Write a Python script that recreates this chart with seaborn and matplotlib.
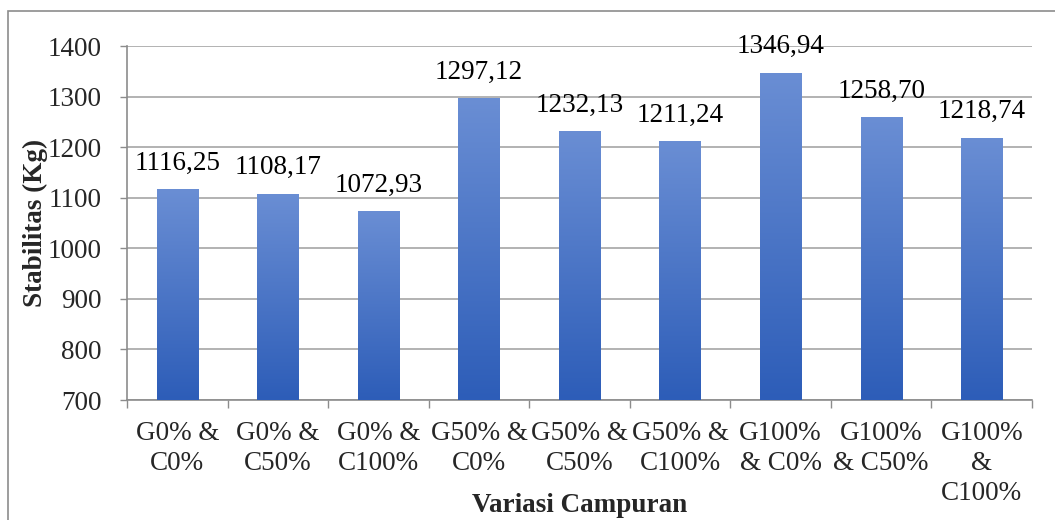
import numpy as np
import pandas as pd
import matplotlib
matplotlib.use("Agg")
import matplotlib.pyplot as plt
import seaborn as sns
from matplotlib.colors import LinearSegmentedColormap
from matplotlib.patches import Rectangle

# data
categories = ["G0% &\nC0%", "G0% &\nC50%", "G0% &\nC100%",
              "G50% &\nC0%", "G50% &\nC50%", "G50% &\nC100%",
              "G100%\n& C0%", "G100%\n& C50%", "G100%\n&\nC100%"]
stabilitas = [1116.25, 1108.17, 1072.93, 1297.12, 1232.13,
              1211.24, 1346.94, 1258.70, 1218.74]
value_labels = ["1116,25", "1108,17", "1072,93", "1297,12", "1232,13",
                "1211,24", "1346,94", "1258,70", "1218,74"]
y_ticks = [700, 800, 900, 1000, 1100, 1200, 1300, 1400]

df = pd.DataFrame({"kategori": categories, "stabilitas": stabilitas})

sns.set_style("white")
plt.rcParams["font.family"] = ["Liberation Serif", "DejaVu Serif"]
FS = 19.5

W, H = 1055, 520
fig = plt.figure(figsize=(W / 100, H / 100), dpi=100)
ax = fig.add_axes([127 / W, 1 - 400 / H, (1032 - 127) / W, (400 - 46) / H])

sns.barplot(data=df, x="kategori", y="stabilitas", color="#3f6cc4",
            width=0.41, ax=ax, zorder=3)

# vertical gradient fill on each bar (lighter at top, darker at bottom)
cmap = LinearSegmentedColormap.from_list("bar", ["#2d5db8", "#6a8ed4"])
grad = np.linspace(0, 1, 256).reshape(-1, 1)
for patch, val, lab in zip(ax.patches, stabilitas, value_labels):
    x0 = patch.get_x()
    x1 = x0 + patch.get_width()
    im = ax.imshow(grad, cmap=cmap, origin="lower", aspect="auto",
                   extent=[x0, x1, 700, val], zorder=3)
    im.set_clip_path(patch)
    patch.set_facecolor("none")
    patch.set_edgecolor("none")
    ax.annotate(lab, (x0 + patch.get_width() / 2, val), xytext=(0, 14),
                textcoords="offset points", ha="center", va="baseline",
                fontsize=FS, color="black")
ax.set_xlim(-0.5, len(categories) - 0.5)
ax.set_ylim(700, 1400)

ax.set_yticks(y_ticks)
ax.set_yticklabels([str(t) for t in y_ticks], fontsize=FS)
ax.yaxis.grid(True, color="#a6a6a6", linewidth=1.2, zorder=0)
ax.set_axisbelow(True)
ax.tick_params(axis="y", length=5, width=1, color="#8c8c8c", pad=13, left=True)

ax.set_xticks(range(len(categories)))
ax.set_xticklabels(categories, fontsize=FS, linespacing=1.28)
ax.tick_params(axis="x", which="major", length=0, pad=15)
ax.set_xticks(np.arange(-0.5, len(categories), 1), minor=True)
ax.tick_params(axis="x", which="minor", length=6, width=1, color="#8c8c8c", bottom=True)

for side in ["top", "right"]:
    ax.spines[side].set_visible(False)
for side in ["left", "bottom"]:
    ax.spines[side].set_visible(True)
    ax.spines[side].set_color("#8c8c8c")
    ax.spines[side].set_linewidth(1.2)

ax.set_xlabel("")
ax.set_ylabel("")
fig.text(35 / W, 1 - 223 / H, "Stabilitas (Kg)", rotation=90, ha="center",
         va="center", fontsize=FS, fontweight="bold")
fig.text(580 / W, 1 - 505 / H, "Variasi Campuran", ha="center",
         va="center", fontsize=FS, fontweight="bold")

# outer chart frame (only top and left edges fall inside the image)
fig.patches.append(Rectangle((8 / W, -0.1), 1.2, 1 - 11 / H + 0.1,
                             transform=fig.transFigure, fill=False,
                             edgecolor="#8c8c8c", linewidth=1.2))

fig.savefig("out.png", dpi=100)
